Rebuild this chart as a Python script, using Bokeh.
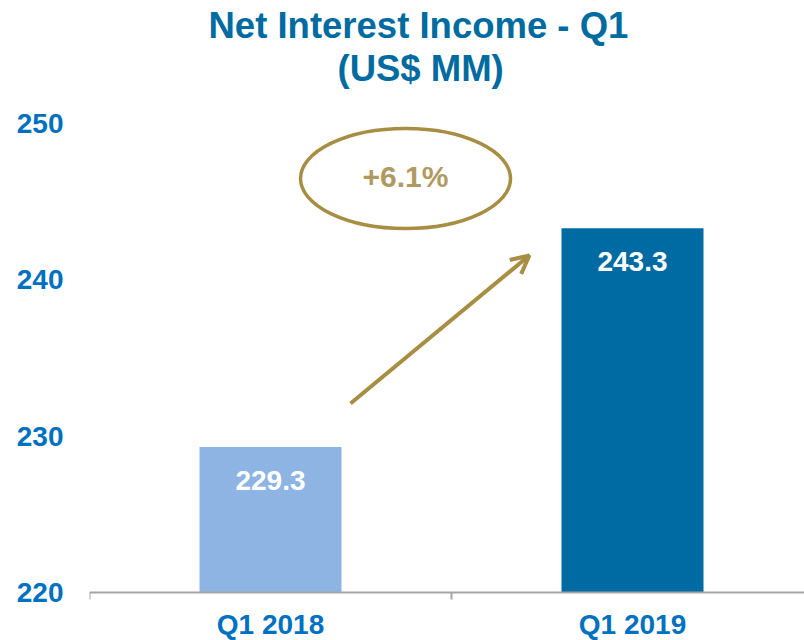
from bokeh.plotting import figure
from bokeh.models import (Title, Range1d, FixedTicker, LabelSet, ColumnDataSource,
                          Arrow, OpenHead)
from bokeh.core.properties import value
from bokeh.embed import file_html
from bokeh.resources import INLINE

# ---- data ----
categories = ["Q1 2018", "Q1 2019"]
values = [229.3, 243.3]
value_labels = ["229.3", "243.3"]
bar_colors = ["#8DB4E2", "#006BA3"]
y_ticks = [220, 230, 240, 250]
change_label = "+6.1%"
title_line1 = "Net Interest Income - Q1"
title_line2 = "(US$ MM)"

FONT = "Liberation Sans"
BLUE = "#0070C0"
TITLE_BLUE = "#006BA0"
GOLD = "#A88E42"
GOLD_TEXT = "#B09A62"

base = y_ticks[0]
xs = [i + 0.5 for i in range(len(categories))]

PX_PER_UNIT = 15.633          # vertical scale (pixels per US$ MM)
CAT_PX = 362                  # width of one category slot in pixels
FRAME_W, FRAME_H = 715, 517

p = figure(width=804, height=640, output_backend="svg", toolbar_location=None,
           x_range=Range1d(0, FRAME_W / CAT_PX),
           y_range=Range1d(y_ticks[-1] - FRAME_H / PX_PER_UNIT, y_ticks[-1]),
           min_border_left=89, min_border_right=0, min_border_top=123,
           min_border_bottom=0, title=None)
p.outline_line_color = None
p.grid.visible = False
p.background_fill_color = "white"
p.border_fill_color = "white"

src = ColumnDataSource(dict(x=xs, top=values, color=bar_colors,
                            label=value_labels, cat=categories))
p.vbar(x="x", top="top", bottom=base, width=142 / CAT_PX, color="color",
       line_color=None, source=src)

labels = LabelSet(x="x", y="top", text="label", source=src, y_offset=-33,
                  text_align="center", text_baseline="middle",
                  text_color="white", text_font=value(FONT),
                  text_font_size="28px", text_font_style="bold")
p.add_layout(labels)

# change annotation (ellipse, text, arrow)
p.ellipse(x=[0.873], y=[246.48], width=210 / CAT_PX, height=100 / PX_PER_UNIT,
          fill_color=None, line_color=GOLD, line_width=3.5)
p.text(x=[0.873], y=[246.6], text=[change_label], text_align="center",
       text_baseline="middle", text_color=GOLD_TEXT, text_font_size="30px",
       text_font_style="bold", text_font=value(FONT))
p.add_layout(Arrow(x_start=0.721, y_start=232.09, x_end=1.215, y_end=241.56,
                   line_color=GOLD, line_width=4,
                   end=OpenHead(size=18, line_color=GOLD, line_width=4)))

# y axis
ya = p.yaxis[0]
ya.ticker = FixedTicker(ticks=y_ticks)
ya.axis_line_color = None
ya.major_tick_line_color = None
ya.minor_tick_line_color = None
ya.major_tick_out = 0
ya.major_label_standoff = 26
ya.major_label_text_color = BLUE
ya.major_label_text_font = FONT
ya.major_label_text_font_size = "28px"
ya.major_label_text_font_style = "bold"

# x axis
xa = p.xaxis[0]
xa.fixed_location = base
xa.ticker = FixedTicker(ticks=xs, minor_ticks=list(range(len(categories) + 1)))
xa.major_label_overrides = {x: c for x, c in zip(xs, categories)}
xa.axis_line_color = "#A6A6A6"
xa.axis_line_width = 2
xa.major_tick_out = 0
xa.major_tick_in = 0
xa.minor_tick_out = 7
xa.minor_tick_in = 0
xa.minor_tick_line_color = "#A6A6A6"
xa.minor_tick_line_width = 2
xa.major_label_standoff = 10
xa.major_label_text_color = BLUE
xa.major_label_text_font = FONT
xa.major_label_text_font_size = "28px"
xa.major_label_text_font_style = "bold"

# titles (first added is nearest to the frame)
spacer = Title(text=" ", standoff=22, text_font=FONT, text_font_size="10px",
               text_color="white")
t2 = Title(text=title_line2, align="left", offset=248, standoff=0,
           text_font=FONT, text_font_size="36.5px", text_font_style="bold",
           text_color=TITLE_BLUE)
t1 = Title(text=title_line1, align="left", offset=119, standoff=0,
           text_font=FONT, text_font_size="36.5px", text_font_style="bold",
           text_color=TITLE_BLUE)
p.add_layout(spacer, "above")
p.add_layout(t2, "above")
p.add_layout(t1, "above")

open("out.html", "w").write(file_html(p, INLINE))
